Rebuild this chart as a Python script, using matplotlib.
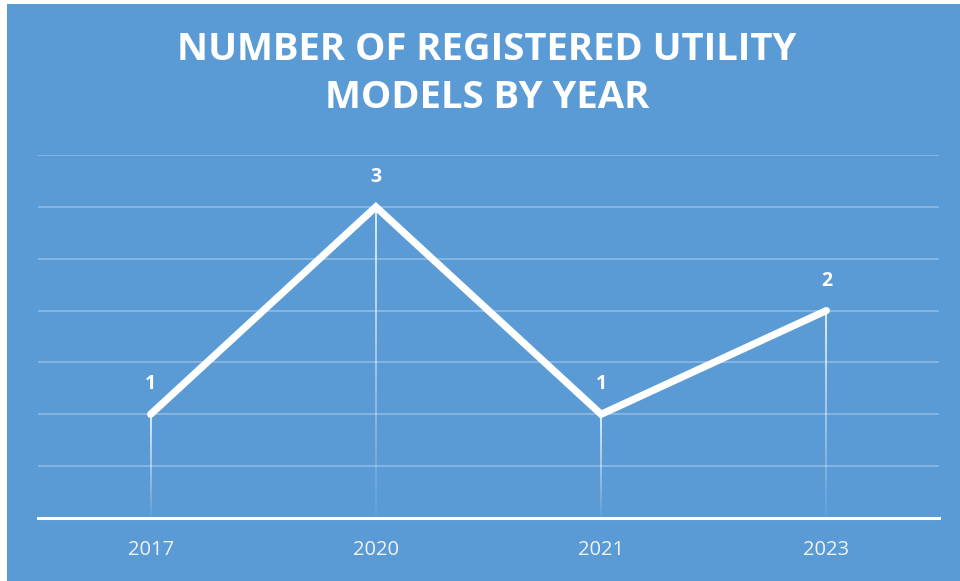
import matplotlib
matplotlib.use("Agg")
import matplotlib.pyplot as plt
from matplotlib.patches import Rectangle
from matplotlib.collections import LineCollection
import numpy as np

years = ["2017", "2020", "2021", "2023"]
counts = [1, 3, 1, 2]
title_lines = ["NUMBER OF REGISTERED UTILITY", "MODELS BY YEAR"]

BG = "#5B9BD5"
W, H = 960, 581
fig = plt.figure(figsize=(W / 100, H / 100), dpi=100)
fig.patch.set_facecolor("white")
fig.add_artist(Rectangle((7 / W, 0), 1 - 7 / W, 1 - 4 / H, transform=fig.transFigure,
                         facecolor=BG, edgecolor="none", zorder=0))

ax = fig.add_axes([38 / W, 1 - 518 / H, (939 - 38) / W, (518 - 155) / H])
ax.set_facecolor("none")
x = np.arange(len(years))
ax.set_xlim(-0.5, len(years) - 0.5)
ax.set_ylim(0, 3.5)

# gridlines
for g in np.arange(0.5, 3.51, 0.5):
    ax.axhline(g, color="white", alpha=0.3, lw=1.2, zorder=1)
ax.axhline(0, color="white", lw=2.2, zorder=3, clip_on=False)

# fading drop lines
for xi, yi in zip(x, counts):
    n = 60
    ys = np.linspace(0, yi, n + 1)
    segs = [[(xi, ys[i]), (xi, ys[i + 1])] for i in range(n)]
    alphas = np.linspace(0.05, 0.95, n)
    cols = [(1, 1, 1, a) for a in alphas]
    ax.add_collection(LineCollection(segs, colors=cols, linewidths=1.2, zorder=2))

ax.plot(x, counts, color="white", lw=5.2, solid_capstyle="round",
        solid_joinstyle="miter", zorder=4)

for xi, yi in zip(x, counts):
    ax.annotate(str(yi), (xi, yi), xytext=(0, 21.5), textcoords="offset points",
                ha="center", va="center", color="white", fontsize=14,
                fontweight="bold", family="Open Sans")

ax.set_xticks(x)
ax.set_xticklabels(years)
ax.tick_params(axis="x", length=0, pad=16, labelsize=14.5, labelcolor="#F2F2F2")
for t in ax.get_xticklabels():
    t.set_family("Open Sans")
ax.set_yticks([])
for s in ax.spines.values():
    s.set_visible(False)

for i, line in enumerate(title_lines):
    fig.text(0.5 + 7 / W, 1 - (50 + 48 * i) / H, line, ha="center", va="center",
             color="white", fontsize=27.5, fontweight="bold", family="Open Sans")

fig.savefig("out.png", dpi=100, facecolor=fig.get_facecolor())
